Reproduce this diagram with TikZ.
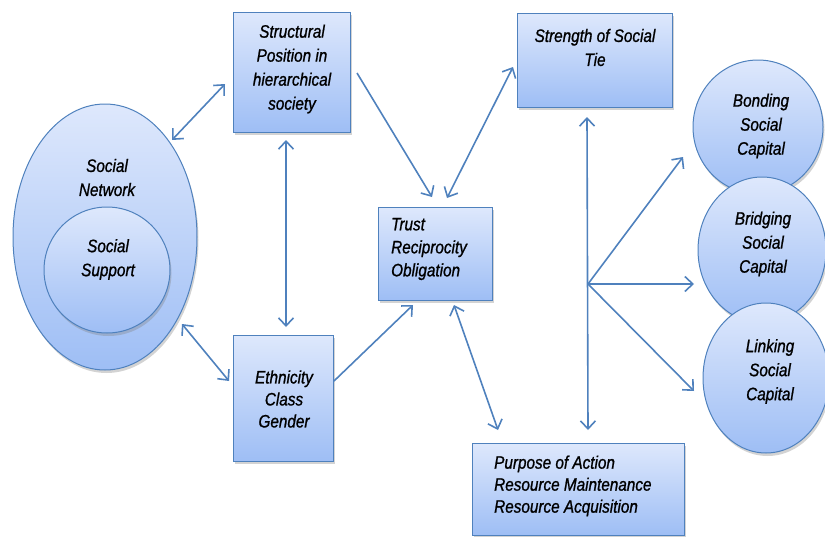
\documentclass[tikz,border=0pt]{standalone}
\usepackage{fontspec}
\setmainfont{Liberation Sans}[FakeStretch=0.85,FakeBold=1]
\usetikzlibrary{arrows.meta,shadows,shapes.geometric}
\definecolor{edgec}{RGB}{79,129,189}
\definecolor{ftop}{RGB}{222,232,252}
\definecolor{fbot}{RGB}{158,190,245}
\tikzset{
  shapebase/.style={draw=edgec, line width=1pt, top color=ftop, bottom color=fbot,
    drop shadow={opacity=0.35, shadow xshift=1.5pt, shadow yshift=-3pt}, inner sep=0pt},
  box/.style={shapebase, rectangle},
  oval/.style={shapebase, ellipse},
  lbl/.style={font=\fontsize{18}{24}\selectfont\itshape, align=center, inner sep=0pt, text=black},
  lbll/.style={lbl, align=left, anchor=west},
  tipa/.tip={Straight Barb[length=8pt,width=15pt]},
  conn/.style={draw=edgec, line width=1.6pt, -tipa},
  both/.style={draw=edgec, line width=1.6pt, tipa-tipa},
}
\begin{document}
\begin{tikzpicture}[x=1pt,y=-1pt]
\useasboundingbox (0,0) rectangle (825,536);
% shapes
\node[oval, minimum width=184pt, minimum height=266pt] (net) at (105,237) {};
\node[oval, minimum width=126pt, minimum height=126pt] (supp) at (107,270) {};
\node[box, minimum width=117pt, minimum height=120pt] (struct) at (291.5,72) {};
\node[box, minimum width=114pt, minimum height=93pt] (trust) at (435,253.5) {};
\node[box, minimum width=155pt, minimum height=94pt] (tie) at (594.5,60) {};
\node[box, minimum width=100pt, minimum height=126pt] (eth) at (283,398) {};
\node[box, minimum width=212pt, minimum height=92pt] (purp) at (578,489) {};
\node[oval, minimum width=130pt, minimum height=134pt] (bond) at (758,127) {};
\node[oval, minimum width=128pt, minimum height=146pt] (bridge) at (762,250) {};
\node[oval, minimum width=126pt, minimum height=150pt] (link) at (766,378) {};
% labels
\node[lbl] (tnet) at (107,177.5) {Social\\Network};
\node[lbl] (tsupp) at (108,259.5) {Social\\Support};
\node[lbl] (tstruct) at (292,69) {Structural\\Position in\\hierarchical\\society};
\node[lbll, font=\fontsize{18}{23}\selectfont\itshape] (ttrust) at (391,249) {Trust\\Reciprocity\\Obligation};
\node[lbl] (ttie) at (595,47.5) {Strength of Social\\Tie};
\node[lbl, font=\fontsize{18}{22}\selectfont\itshape] (teth) at (284,399) {Ethnicity\\Class\\Gender};
\node[lbll, font=\fontsize{18}{22}\selectfont\itshape] (tpurp) at (494,486) {Purpose of Action\\Resource Maintenance\\Resource Acquisition};
\node[lbl] (tbond) at (761,126) {Bonding\\Social\\Capital};
\node[lbl] (tbridge) at (763,244) {Bridging\\Social\\Capital};
\node[lbl] (tlink) at (770,371.5) {Linking\\Social\\Capital};
% connector end points
\coordinate (s1) at (225,84);   \coordinate (n1) at (172,140);
\coordinate (n2) at (182,324);  \coordinate (e2) at (229,381);
\coordinate (s3) at (286,140);  \coordinate (e3) at (286,327);
\coordinate (s4) at (357,73);   \coordinate (t4) at (432,197);
\coordinate (t5) at (447,198);  \coordinate (g5) at (513,67);
\coordinate (e6) at (334,381);  \coordinate (t6) at (413,305);
\coordinate (t7) at (454,305);  \coordinate (p7) at (498,430);
\coordinate (g8) at (587,117);  \coordinate (p8) at (588,430);
\coordinate (j) at (588,284);
\coordinate (b9) at (683,157);
\coordinate (b10) at (694,284);
\coordinate (l11) at (694,391);
% connectors
\draw[both] (s1) -- (n1);
\draw[both] (n2) -- (e2);
\draw[both] (s3) -- (e3);
\draw[conn] (s4) -- (t4);
\draw[both] (t5) -- (g5);
\draw[conn] (e6) -- (t6);
\draw[both] (t7) -- (p7);
\draw[both] (g8) -- (p8);
\draw[conn] (j) -- (b9);
\draw[conn] (j) -- (b10);
\draw[conn] (j) -- (l11);
\end{tikzpicture}
\end{document}
